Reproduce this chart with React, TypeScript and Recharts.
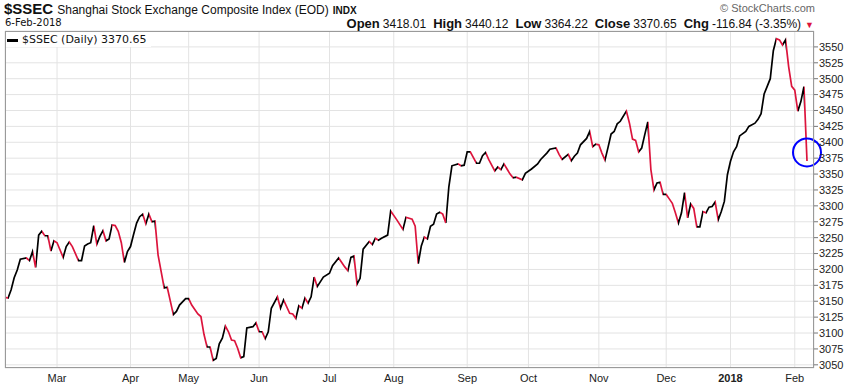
import { LineChart, Line, XAxis, YAxis, CartesianGrid, ReferenceDot } from "recharts";

// trading-day position (0 = 6-Feb-2017) and daily close
const days = [
  0, 1, 2, 3, 4, 5, 7, 8, 9, 10,
  11, 12, 13, 14, 15, 16, 17, 19, 20, 21,
  22, 24, 25, 26, 27, 28, 29, 30, 31, 32,
  33, 34, 35, 36, 37, 38, 39, 40, 41, 42,
  43, 44, 45, 46, 47, 48, 49, 50, 51, 52,
  53, 55, 56, 57, 59, 60, 61, 63, 64, 65,
  66, 67, 68, 69, 70, 71, 72, 73, 74, 75,
  76, 77, 78, 79, 81, 82, 83, 84, 85, 86,
  87, 89, 90, 91, 93, 94, 95, 96, 97, 98,
  99, 100, 101, 102, 104, 106, 107, 109, 111, 112,
  113, 114, 115, 116, 117, 119, 120, 121, 122, 123,
  125, 126, 128, 130, 131, 133, 134, 135, 136, 137,
  138, 139, 140, 141, 142, 143, 144, 145, 146, 148,
  149, 150, 151, 152, 154, 155, 156, 157, 158, 160,
  161, 162, 163, 164, 165, 166, 167, 169, 170, 172,
  174, 175, 177, 178, 180, 181, 182, 184, 185, 186,
  187, 188, 190, 191, 192, 193, 194, 195, 196, 197,
  198, 199, 200, 201, 203, 204, 205, 206, 207, 208,
  209, 210, 211, 212, 213, 214, 215, 216, 217, 218,
  219, 220, 221, 222, 223, 224, 225, 226, 227, 228,
  229, 230, 231, 232, 233, 234, 235, 236, 237, 238,
  239, 240, 242, 243, 245, 246, 247, 248, 249, 250,
  251, 252, 253, 254, 255, 256, 257, 258, 259, 260,
  261, 262,
];

const closes = [
  3156, 3155, 3168, 3187, 3199, 3216, 3218, 3214, 3228, 3203,
  3254, 3260, 3253, 3253, 3229, 3245, 3242, 3219, 3236, 3243,
  3236, 3214, 3214, 3237, 3240, 3242, 3269, 3240, 3252, 3261,
  3245, 3248, 3270, 3269, 3260, 3242, 3211, 3228, 3236, 3255,
  3273, 3283, 3287, 3272, 3287, 3275, 3276, 3223, 3197, 3171,
  3172, 3129, 3134, 3144, 3154, 3154, 3144, 3130, 3126, 3098,
  3078, 3078, 3057, 3060, 3083, 3092, 3111, 3102, 3089, 3088,
  3076, 3061, 3063, 3108, 3110, 3116, 3102, 3102, 3091, 3102,
  3139, 3157, 3139, 3152, 3131, 3130, 3123, 3143, 3139, 3155,
  3147, 3157, 3188, 3173, 3188, 3194, 3206, 3218, 3204, 3198,
  3219, 3221, 3177, 3186, 3232, 3244, 3239, 3249, 3246, 3249,
  3254, 3292, 3278, 3263, 3282, 3279, 3268, 3209, 3237, 3251,
  3248, 3268, 3271, 3287, 3290, 3287, 3273, 3330, 3363, 3366,
  3363, 3364, 3385, 3385, 3367, 3367, 3379, 3384, 3373, 3355,
  3361, 3357, 3366, 3358, 3350, 3344, 3345, 3341, 3351, 3358,
  3366, 3373, 3383, 3389, 3391, 3381, 3373, 3381, 3371, 3378,
  3383, 3396, 3406, 3417, 3393, 3397, 3396, 3383, 3372, 3392,
  3413, 3417, 3429, 3433, 3449, 3430, 3405, 3403, 3385, 3391,
  3412, 3432, 3357, 3325, 3336, 3337, 3318, 3318, 3311, 3304,
  3289, 3273, 3289, 3321, 3281, 3303, 3296, 3267, 3267, 3291,
  3289, 3298, 3299, 3306, 3278, 3291, 3307, 3349, 3370, 3385,
  3393, 3410, 3417, 3425, 3430, 3436, 3445, 3476, 3488, 3500,
  3544, 3563, 3561, 3553, 3561, 3519, 3488, 3482, 3449, 3464,
  3487.49, 3370.65,
];

const monthTicks = [17, 41, 60, 83, 106, 127, 151, 171, 194, 216, 237, 258];
const monthLabels = ["Mar", "Apr", "May", "Jun", "Jul", "Aug", "Sep", "Oct", "Nov", "Dec", "2018", "Feb"];

const priceTicks = [
  3050, 3075, 3100, 3125, 3150, 3175, 3200, 3225, 3250, 3275, 3300,
  3325, 3350, 3375, 3400, 3425, 3450, 3475, 3500, 3525, 3550,
];

const quoteLabels = ["Open", "High", "Low", "Close", "Chg"];
const quoteValues = ["3418.01", "3440.12", "3364.22", "3370.65", "-116.84 (-3.35%)"];

const UP = "#000000";
const DOWN = "#dc143c";

const data = days.map((d, i) => ({ day: d, close: closes[i] }));

// hard-stop gradient so each daily segment is black (up) or red (down)
const firstDay = days[0];
const lastDay = days[days.length - 1];
const stops: { off: number; color: string }[] = [];
for (let i = 0; i < days.length - 1; i++) {
  const color = closes[i + 1] >= closes[i] ? UP : DOWN;
  stops.push({ off: (days[i] - firstDay) / (lastDay - firstDay), color });
  stops.push({ off: (days[i + 1] - firstDay) / (lastDay - firstDay), color });
}

const MonthTick = ({ x, y, payload }: any) => {
  const label = monthLabels[monthTicks.indexOf(payload.value)];
  return (
    <text
      x={x}
      y={y + 14}
      textAnchor="middle"
      fontSize={11}
      fontFamily="'Liberation Sans Narrow', 'Arial Narrow', 'Liberation Sans', sans-serif"
      fontWeight={label === "2018" ? 700 : 400}
      fill="#222"
    >
      {label}
    </text>
  );
};

const sans = "'Liberation Sans', Arial, sans-serif";
const dejavu = "'DejaVu Sans', Verdana, sans-serif";

export default function App() {
  return (
    <div style={{ position: "relative", width: 847, height: 387, background: "#fff", fontFamily: sans }}>
      <style>{`body{margin:0}`}</style>
      <LineChart width={847} height={387} data={data} margin={{ top: 31, right: 0, bottom: 0, left: 5 }}>
        <defs>
          <linearGradient id="ssecTrend" x1="0" y1="0" x2="1" y2="0">
            {stops.map((s, i) => (
              <stop key={i} offset={s.off} stopColor={s.color} />
            ))}
          </linearGradient>
        </defs>
        <CartesianGrid stroke="#e3e3e3" />
        <XAxis
          dataKey="day"
          type="number"
          domain={[0, 262]}
          ticks={monthTicks}
          interval={0}
          height={19}
          padding={{ left: 0, right: 7 }}
          axisLine={false}
          tickLine={false}
          tickSize={0}
          tickMargin={0}
          tick={<MonthTick />}
        />
        <YAxis
          orientation="right"
          domain={[3045, 3575]}
          ticks={priceTicks}
          interval={0}
          width={33}
          axisLine={false}
          tickSize={4}
          tickMargin={1}
          tickLine={{ stroke: "#777" }}
          tick={{ fontSize: 11, fill: "#222", fontFamily: sans }}
        />
        <Line
          type="linear"
          dataKey="close"
          stroke="url(#ssecTrend)"
          strokeWidth={1.7}
          dot={false}
          isAnimationActive={false}
        />
        <ReferenceDot x={262} y={3384} r={14} fill="none" stroke="#0000ff" strokeWidth={2} />
      </LineChart>

      {/* plot frame */}
      <div
        style={{
          position: "absolute",
          left: 5,
          top: 31,
          width: 809,
          height: 337,
          boxSizing: "border-box",
          border: "1px solid #9a9a9a",
          pointerEvents: "none",
        }}
      />

      {/* legend */}
      <div
        style={{
          position: "absolute",
          left: 6,
          top: 32,
          height: 15,
          paddingRight: 4,
          background: "#fff",
          fontFamily: dejavu,
          fontSize: 11,
          lineHeight: "15px",
          color: "#111",
          whiteSpace: "nowrap",
        }}
      >
        <span style={{ display: "inline-block", width: 11, height: 3, background: "#000", verticalAlign: "middle", marginRight: 4, marginLeft: 1 }} />
        $SSEC (Daily) 3370.65
      </div>

      {/* title */}
      <div style={{ position: "absolute", left: 4, top: 0, whiteSpace: "nowrap", lineHeight: "17px", color: "#111" }}>
        <span style={{ fontSize: 15, fontWeight: 700 }}>$SSEC</span>
        <span style={{ fontSize: 12, marginLeft: 4 }}>Shanghai Stock Exchange Composite Index (EOD)</span>
        <span style={{ fontSize: 10, fontWeight: 700, marginLeft: 4 }}>INDX</span>
      </div>
      <div style={{ position: "absolute", left: 5, top: 17, fontFamily: dejavu, fontSize: 10, lineHeight: "12px", color: "#111" }}>
        6-Feb-2018
      </div>
      <div style={{ position: "absolute", right: 32, top: 2, fontSize: 11, lineHeight: "13px", color: "#666" }}>
        © StockCharts.com
      </div>
      <div style={{ position: "absolute", right: 33, top: 15, whiteSpace: "nowrap", lineHeight: "15px", color: "#111" }}>
        {quoteLabels.map((lab, i) => (
          <span key={lab} style={{ marginLeft: i === 0 ? 0 : 7 }}>
            <b style={{ fontSize: 13 }}>{lab}</b>
            <span style={{ fontSize: 12, marginLeft: 3 }}>{quoteValues[i]}</span>
          </span>
        ))}
        <span style={{ color: DOWN, fontSize: 9, marginLeft: 4 }}>▼</span>
      </div>
    </div>
  );
}
